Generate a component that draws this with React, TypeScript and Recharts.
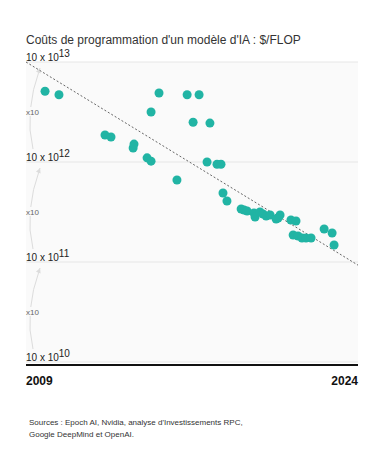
import React from "react";
import { ScatterChart, Scatter, XAxis, YAxis, CartesianGrid, ReferenceLine, ReferenceArea } from "recharts";

// années (position horizontale de chaque modèle)
const years = [
  2009.86, 2010.49, 2012.57, 2012.84, 2013.84, 2013.88, 2014.47, 2014.65, 2014.65, 2015.01,
  2015.82, 2016.28, 2016.82, 2016.55, 2017.31, 2017.18, 2017.63, 2017.81, 2017.9, 2018.08,
  2018.72, 2018.85, 2018.99, 2019.3, 2019.35, 2019.57, 2019.71, 2019.85, 2020.03, 2020.39,
  2020.48, 2020.3, 2020.97, 2021.2, 2021.07, 2021.29, 2021.47, 2021.65, 2021.88, 2022.47,
  2022.83, 2022.92,
];
// coût en $/FLOP
const costs = [
  5.1e12, 4.7e12, 1.86e12, 1.78e12, 1.38e12, 1.51e12, 1.1e12, 1.02e12, 3.16e12, 4.9e12,
  6.6e11, 4.7e12, 4.7e12, 2.5e12, 2.45e12, 1.0e12, 9.5e11, 9.5e11, 4.9e11, 4.07e11,
  3.39e11, 3.31e11, 3.24e11, 3.09e11, 2.82e11, 3.16e11, 3.02e11, 2.88e11, 2.95e11, 2.75e11,
  2.95e11, 2.69e11, 2.63e11, 2.57e11, 1.86e11, 1.82e11, 1.74e11, 1.74e11, 1.74e11, 2.14e11,
  1.95e11, 1.48e11,
];
const trendStart = { year: 2009, cost: 1e13 };
const trendEnd = { year: 2024, cost: 9.3e10 };
const yTicks = [1e10, 1e11, 1e12, 1e13];
const xTicks = [2009, 2024];
const steps = [[1e10, 1e11], [1e11, 1e12], [1e12, 1e13]];

const data = years.map((year, i) => ({ year, cost: costs[i] }));

const renderYTick = (p: any) => {
  const exp = Math.round(Math.log10(p.payload.value));
  return (
    <text x={p.x} y={p.y - 1} fontSize={10} fill="#222" textAnchor="start">
      <tspan>10 x 10</tspan>
      <tspan dy={-4} fontSize={10}>{exp}</tspan>
    </text>
  );
};

const renderXTick = (p: any) => (
  <text x={p.x} y={p.y + 23} fontSize={12} fontWeight="bold" fill="#111"
    textAnchor={p.payload.value === xTicks[0] ? "start" : "end"}>
    {p.payload.value}
  </text>
);

const ArcShape = (p: any) => {
  const { x, y, height } = p;
  const sx = x + 7, sy = y + height - 13;
  const cx = x - 2, cy = y + height / 2;
  const ex = x + 14, ey = y + 6;
  const dx = ex - cx, dy = ey - cy;
  const len = Math.sqrt(dx * dx + dy * dy);
  const ux = dx / len, uy = dy / len;
  const bx = ex - ux * 5, by = ey - uy * 5;
  return (
    <g>
      <path d={`M ${sx} ${sy} Q ${cx} ${cy} ${ex} ${ey}`} fill="none" stroke="#dcdcdc" strokeWidth={1} />
      <polygon points={`${ex},${ey} ${bx - uy * 2.5},${by + ux * 2.5} ${bx + uy * 2.5},${by - ux * 2.5}`} fill="#dcdcdc" />
      <rect x={x} y={cy - 5} width={13} height={9} fill="#fafafa" />
      <text x={x} y={cy + 3} fontSize={8} fill="#666">x10</text>
    </g>
  );
};

export default function App() {
  return (
    <div style={{ position: "relative", width: 391, height: 461, margin: -8, background: "#fff", fontFamily: "'Liberation Sans', Arial, sans-serif" }}>
      <div style={{ position: "absolute", left: 26, top: 34, fontSize: 12, lineHeight: "12px", color: "#333" }}>
        Coûts de programmation d'un modèle d'IA : $/FLOP
      </div>
      <div style={{ position: "absolute", left: 0, top: 0 }}>
        <ScatterChart width={391} height={400} margin={{ top: 62, right: 33, bottom: 8, left: 25 }}>
          <CartesianGrid vertical={false} stroke="#e6e6e6" fill="#fafafa" />
          <XAxis type="number" dataKey="year" domain={[2009, 2024]} ticks={xTicks} interval={0}
            height={30} tickSize={0} tickMargin={0} tick={renderXTick}
            axisLine={{ stroke: "#111", strokeWidth: 2, transform: "translate(0,3)" }} />
          <YAxis type="number" dataKey="cost" scale="log" domain={[1e10, 1e13]} ticks={yTicks}
            width={1} tickSize={0} tickMargin={0} axisLine={false} tickLine={false} interval={0}
            tick={renderYTick} allowDataOverflow />
          {steps.map(([a, b]) => (
            <ReferenceArea key={a} y1={a} y2={b} fill="none" ifOverflow="visible" shape={<ArcShape />} />
          ))}
          <ReferenceLine
            segment={[{ x: trendStart.year, y: trendStart.cost }, { x: trendEnd.year, y: trendEnd.cost }]}
            stroke="#666" strokeDasharray="2 2" strokeWidth={1} ifOverflow="visible" />
          <Scatter data={data} isAnimationActive={false}
            shape={(s: any) => <circle cx={s.cx} cy={s.cy} r={4.5} fill="#21b4a4" />} />
        </ScatterChart>
      </div>
      <div style={{ position: "absolute", left: 29, top: 417, fontSize: 8, lineHeight: "12px", color: "#333" }}>
        Sources : Epoch AI, Nvidia, analyse d'Investissements RPC,<br />
        Google DeepMind et OpenAI.
      </div>
    </div>
  );
}
